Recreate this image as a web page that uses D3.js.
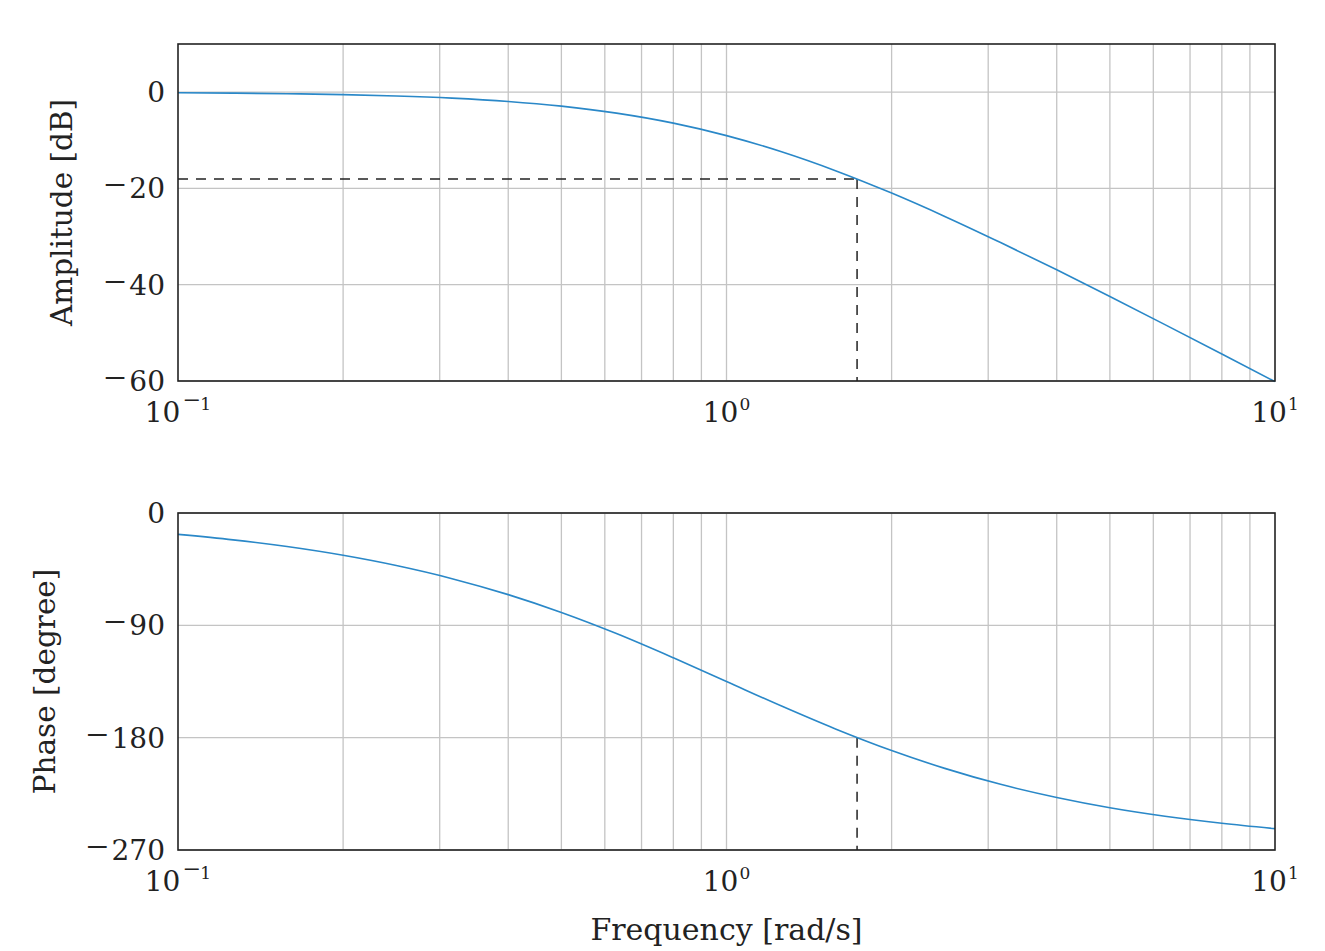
<!DOCTYPE html>
<html>
<head>
<meta charset="utf-8">
<script src="https://cdn.jsdelivr.net/npm/d3@7"></script>
<style>
  body { margin: 0; background: #fff; }
  text { font-family: "DejaVu Serif", "Liberation Serif", serif; fill: #222; }
  .minus { font-family: "Liberation Serif", serif; }
</style>
</head>
<body>
<svg id="chart" width="1325" height="951"></svg>
<script>
// ---- data ----
const freq = [0.1, 0.126, 0.158, 0.2, 0.25, 0.316, 0.4, 0.5, 0.63, 0.8, 1,
  1.26, 1.58, 2, 2.5, 3.16, 4, 5, 6.3, 8, 10];
const amplitude = [-0.13, -0.21, -0.32, -0.51, -0.79, -1.24, -1.93, -2.91, -4.36, -6.44, -9.03,
  -12.39, -16.31, -20.97, -25.81, -31.24, -36.91, -42.45, -48.29, -54.39, -60.13];
const phase = [-17.1, -21.5, -26.9, -33.9, -42.1, -52.6, -65.4, -79.7, -96.6, -116.0, -135,
  -154.7, -173.0, -190.3, -204.6, -217.4, -227.9, -236.1, -242.9, -248.6, -252.9];
const marker = {freq: 1.73, amplitude: -18.06, phase: -180};
const ampTicks = [0, -20, -40, -60];
const phaseTicks = [0, -90, -180, -270];
const decades = [-1, 0, 1];

const svg = d3.select('#chart');
const left = 178, right = 1275;
const x = d3.scaleLog().domain([0.1, 10]).range([left, right]);
const minor = [];
[0.1, 1].forEach(b => d3.range(2, 10).forEach(k => minor.push(b * k)));

const panels = [
  {top: 44, bottom: 381, domain: [-60, 10], values: amplitude, ticks: ampTicks,
   title: 'Amplitude [dB]', titleX: 62, mark: marker.amplitude, full: true},
  {top: 513, bottom: 850, domain: [-270, 0], values: phase, ticks: phaseTicks,
   title: 'Phase [degree]', titleX: 45, mark: marker.phase, full: false}
];

const FS = 28;

panels.forEach(p => {
  const y = d3.scaleLinear().domain(p.domain).range([p.bottom, p.top]);
  const g = svg.append('g');

  // grid
  g.selectAll('line.vgrid').data([...minor, 1]).enter().append('line')
    .attr('x1', d => x(d)).attr('x2', d => x(d))
    .attr('y1', p.top).attr('y2', p.bottom)
    .attr('stroke', '#c4c4c4').attr('stroke-width', 1.3);
  g.selectAll('line.hgrid').data(p.ticks).enter().append('line')
    .attr('x1', left).attr('x2', right)
    .attr('y1', d => y(d)).attr('y2', d => y(d))
    .attr('stroke', '#c4c4c4').attr('stroke-width', 1.3);

  // dashed guide lines
  const mx = x(marker.freq), my = y(p.mark);
  if (p.full) {
    g.append('line').attr('x1', left).attr('x2', mx).attr('y1', my).attr('y2', my)
      .attr('stroke', '#222').attr('stroke-width', 1.5).attr('stroke-dasharray', '10,8');
  }
  g.append('line').attr('x1', mx).attr('x2', mx).attr('y1', my).attr('y2', p.bottom)
    .attr('stroke', '#222').attr('stroke-width', 1.5).attr('stroke-dasharray', '10,8');

  // curve
  const line = d3.line()
    .x((d, i) => x(freq[i]))
    .y(d => y(d))
    .curve(d3.curveMonotoneX);
  g.append('path').datum(p.values).attr('d', line)
    .attr('fill', 'none').attr('stroke', '#2a88c8').attr('stroke-width', 1.6);

  // frame
  g.append('rect').attr('x', left).attr('y', p.top)
    .attr('width', right - left).attr('height', p.bottom - p.top)
    .attr('fill', 'none').attr('stroke', '#222').attr('stroke-width', 1.6);

  // y tick labels: long minus sign, then digits
  g.selectAll('text.yt').data(p.ticks).enter().append('text')
    .attr('x', 165).attr('y', d => y(d) + 10)
    .attr('text-anchor', 'end').attr('font-size', FS)
    .each(function(d) {
      const t = d3.select(this);
      if (d < 0) t.append('tspan').attr('class', 'minus').attr('font-size', 40).text('\u2212');
      t.append('tspan').attr('dx', d < 0 ? 3 : 0).text(Math.abs(d));
    });

  // x tick labels 10^n
  decades.forEach(n => {
    const t = g.append('text').attr('x', x(Math.pow(10, n))).attr('y', p.bottom + 41)
      .attr('text-anchor', 'middle').attr('font-size', FS);
    t.append('tspan').text('10');
    if (n < 0) {
      t.append('tspan').attr('class', 'minus').attr('font-size', 30).attr('dx', 3).attr('dy', -12).text('\u2212');
      t.append('tspan').attr('font-size', 17).text(Math.abs(n));
    } else {
      t.append('tspan').attr('font-size', 17).attr('dx', 1).attr('dy', -12).text(n);
    }
  });

  // axis title
  g.append('text')
    .attr('transform', `translate(${p.titleX + 10},${(p.top + p.bottom) / 2}) rotate(-90)`)
    .attr('text-anchor', 'middle').attr('font-size', 29.5)
    .text(p.title);
});

svg.append('text').attr('x', (left + right) / 2).attr('y', 940)
  .attr('text-anchor', 'middle').attr('font-size', 30)
  .text('Frequency [rad/s]');
</script>
</body>
</html>
